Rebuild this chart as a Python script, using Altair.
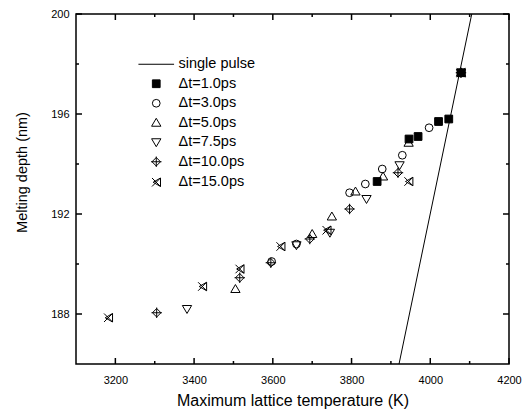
import altair as alt
import pandas as pd

series_names = ["single pulse", "Δt=1.0ps", "Δt=3.0ps", "Δt=5.0ps",
                "Δt=7.5ps", "Δt=10.0ps", "Δt=15.0ps"]

pulse_x = [3918, 4108]
pulse_y = [185.8, 200.2]

dt1_x = [3865, 3946, 3969, 4021, 4047, 4078]
dt1_y = [193.3, 195.0, 195.1, 195.7, 195.8, 197.65]

dt3_x = [3597, 3660, 3795, 3835, 3878, 3929, 3997, 4078]
dt3_y = [190.1, 190.8, 192.85, 193.2, 193.8, 194.35, 195.45, 197.65]

dt5_x = [3505, 3700, 3750, 3810, 3880, 3945, 4078]
dt5_y = [189.0, 191.2, 191.9, 192.9, 193.5, 194.85, 197.65]

dt75_x = [3382, 3660, 3745, 3838, 3922, 4078]
dt75_y = [188.2, 190.75, 191.25, 192.6, 193.95, 197.65]

dt10_x = [3305, 3516, 3595, 3694, 3795, 3918, 4078]
dt10_y = [188.05, 189.45, 190.05, 191.0, 192.2, 193.65, 197.65]

dt15_x = [3182, 3421, 3516, 3620, 3737, 3945, 4078]
dt15_y = [187.85, 189.1, 189.8, 190.7, 191.35, 193.3, 197.65]

x_major = [3200, 3400, 3600, 3800, 4000, 4200]
x_minor = [3300, 3500, 3700, 3900, 4100]
y_major = [188, 192, 196, 200]
y_minor = [190, 194, 198]
y_bottom = 186

rows = []
for name, xs, ys in [(series_names[1], dt1_x, dt1_y), (series_names[2], dt3_x, dt3_y),
                     (series_names[3], dt5_x, dt5_y), (series_names[4], dt75_x, dt75_y),
                     (series_names[5], dt10_x, dt10_y), (series_names[6], dt15_x, dt15_y)]:
    for x, y in zip(xs, ys):
        rows.append({"series": name, "T": x, "depth": y})
points = pd.DataFrame(rows)

LINE_SYM = "M-4.6,0L4.6,0"
TRI_UP = "M0,-1.15L1.2,0.9L-1.2,0.9Z"
TRI_DOWN = "M0,1.15L1.2,-0.9L-1.2,-0.9Z"
DIAMOND = "M0,-1.1L1.1,0L0,1.1L-1.1,0Z M0,-1.35L0,1.35 M-1.35,0L1.35,0"
BOWTIE = "M-1.1,-1.1L1.1,1.1 M-1.1,1.1L1.1,-1.1 M1.1,-1.1L1.1,1.1 M1.1,-1.1L-0.8,0L1.1,1.1"
shape_range = [LINE_SYM, "square", "circle", TRI_UP, TRI_DOWN, DIAMOND, BOWTIE]
fill_range = ["transparent", "black", "transparent", "transparent", "transparent", "transparent", "transparent"]
stroke_range = ["black"] * 7

W, H = 433, 350
FONT = "Liberation Sans"

x_scale = alt.Scale(domain=[3100, 4200], nice=False, zero=False)
y_scale = alt.Scale(domain=[186, 200], nice=False, zero=False)

legend = alt.Legend(title=None, orient="none", legendX=73, legendY=43,
                    labelFontSize=14.5, labelFont=FONT, labelColor="black",
                    symbolSize=60, symbolStrokeColor="black", symbolStrokeWidth=1,
                    rowPadding=4.5, labelOffset=15, padding=0)

line = alt.Chart(pd.DataFrame({"T": pulse_x, "depth": pulse_y})).mark_line(
    color="black", strokeWidth=1, clip=True).encode(
    x=alt.X("T:Q", scale=x_scale,
            axis=alt.Axis(title="Maximum lattice temperature (K)", values=x_major, format="d",
                          labelFlush=False, labelPadding=10, titlePadding=7, titleFontSize=16)),
    y=alt.Y("depth:Q", scale=y_scale,
            axis=alt.Axis(title="Melting depth (nm)", values=y_major, format="d",
                          labelFlush=False, labelPadding=7, titleFontSize=14.5,
                          titleX=-47, titleY=158, titleAngle=270,
                          titleBaseline="bottom", titleAlign="center")),
)

pts = alt.Chart(points).mark_point(strokeWidth=1, opacity=1, size=60).encode(
    x=alt.X("T:Q", scale=x_scale),
    y=alt.Y("depth:Q", scale=y_scale),
    shape=alt.Shape("series:N", scale=alt.Scale(domain=series_names, range=shape_range), legend=legend),
    fill=alt.Fill("series:N", scale=alt.Scale(domain=series_names, range=fill_range), legend=legend),
    stroke=alt.Stroke("series:N", scale=alt.Scale(domain=series_names, range=stroke_range), legend=legend),
)

TICK_W = 1.5

def xticks_top(vals, length):
    return alt.Chart(pd.DataFrame({"T": vals})).mark_rule(color="black", strokeWidth=TICK_W).encode(
        x=alt.X("T:Q", scale=x_scale), y=alt.value(0), y2=alt.value(length))

def xticks_bottom(vals, length):
    return alt.Chart(pd.DataFrame({"T": vals})).mark_rule(color="black", strokeWidth=TICK_W).encode(
        x=alt.X("T:Q", scale=x_scale), y=alt.Y(datum=y_bottom, scale=y_scale),
        y2=alt.value(H - length))

def yticks(vals, x0, x1):
    return alt.Chart(pd.DataFrame({"depth": vals})).mark_rule(color="black", strokeWidth=TICK_W).encode(
        y=alt.Y("depth:Q", scale=y_scale), x=alt.value(x0), x2=alt.value(x1))

ticks = [
    xticks_bottom(x_major, 6), xticks_bottom(x_minor, 3),
    xticks_top(x_major, 6), xticks_top(x_minor, 3),
    yticks(y_major, 0, 6), yticks(y_minor, 0, 3),
    yticks(y_major, W, W - 6), yticks(y_minor, W, W - 3),
]

chart = alt.layer(line, pts, *ticks).properties(
    width=W, height=H,
    autosize=alt.AutoSizeParams(type="none"),
    padding={"left": 68, "top": 6, "right": 14, "bottom": 49},
).configure_view(stroke="black", strokeWidth=1.5).configure_axis(
    domain=False, ticks=False, grid=False,
    labelFont=FONT, labelFontSize=11, labelColor="black",
    titleFont=FONT, titleFontWeight="normal", titleColor="black",
)

chart.save("out.html", embed_options={"renderer": "svg", "actions": False})
